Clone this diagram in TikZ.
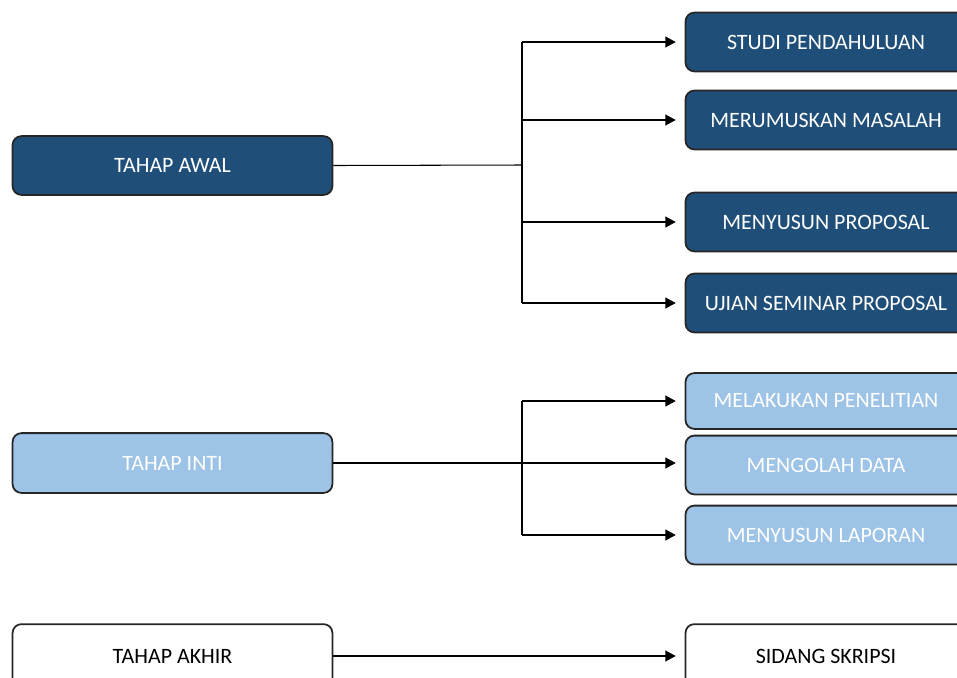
\documentclass[tikz,border=0pt]{standalone}
\usepackage{fontspec}
\setmainfont{Carlito}
\usetikzlibrary{arrows.meta,positioning}

\definecolor{tahapdark}{RGB}{31,78,121}
\definecolor{tahaplight}{RGB}{157,195,230}

\begin{document}
\begin{tikzpicture}[x=0.02cm, y=-0.02cm,
        box/.style={draw=black!85, line width=1pt, rounded corners=5pt,
            inner sep=0pt, font=\fontsize{12.5}{15}\selectfont},
        phase/.style={box, minimum width=321*0.567pt},
        task/.style={box, minimum width=282*0.567pt},
        awal/.style={fill=tahapdark, text=white},
        inti/.style={fill=tahaplight, text=white},
        akhir/.style={fill=white, text=black},
        thinline/.style={line width=0.6pt},
        thickline/.style={line width=1.4pt},
        arr/.style={thickline, -{Triangle[length=6pt, width=6pt]}, shorten >=5pt}]
        \useasboundingbox (0,0) rectangle (957,677);

        \node[phase, awal, minimum height=59*0.567pt] at (172.5, 165.5)(awal){TAHAP AWAL};
        \node[phase, inti, minimum height=60*0.567pt] at (172.5, 463)(inti){TAHAP INTI};
        \node[phase, akhir, minimum height=64*0.567pt] at (172.5, 656)(akhir){TAHAP AKHIR};

        \node[task, awal, minimum height=59*0.567pt] at (826, 42)(studi){STUDI PENDAHULUAN};
        \node[task, awal, minimum height=59*0.567pt] at (826, 120)(rumus){MERUMUSKAN MASALAH};
        \node[task, awal, minimum height=59*0.567pt] at (826, 222)(proposal){MENYUSUN PROPOSAL};
        \node[task, awal, minimum height=59*0.567pt] at (826, 303)(seminar){UJIAN SEMINAR PROPOSAL};

        \node[task, inti, minimum height=56*0.567pt] at (826, 401)(teliti){MELAKUKAN PENELITIAN};
        \node[task, inti, minimum height=59*0.567pt] at (826, 465)(olah){MENGOLAH DATA};
        \node[task, inti, minimum height=59*0.567pt] at (826, 535)(lapor){MENYUSUN LAPORAN};

        \node[task, akhir, minimum height=64*0.567pt] at (826, 656)(sidang){SIDANG SKRIPSI};

        \coordinate (j1) at (522, 165);
        \coordinate (j2) at (522, 463);

        % tahap awal
        \draw[thinline] (awal.east) -- (j1);
        \draw[thinline] (j1 |- studi) -- (j1 |- seminar);
        \path[arr]
        (j1 |- studi)edge(studi.west)
        (j1 |- rumus)edge(rumus.west)
        (j1 |- proposal)edge(proposal.west)
        (j1 |- seminar)edge(seminar.west)
        ;

        % tahap inti
        \draw[thinline] (j2 |- teliti) -- (j2 |- lapor);
        \path[arr]
        (inti.east)edge(inti.east -| olah.west)
        (j2 |- teliti)edge(teliti.west)
        (j2 |- lapor)edge(lapor.west)
        ;

        % tahap akhir
        \path[arr] (akhir.east)edge(sidang.west);
    \end{tikzpicture}
\end{document}
